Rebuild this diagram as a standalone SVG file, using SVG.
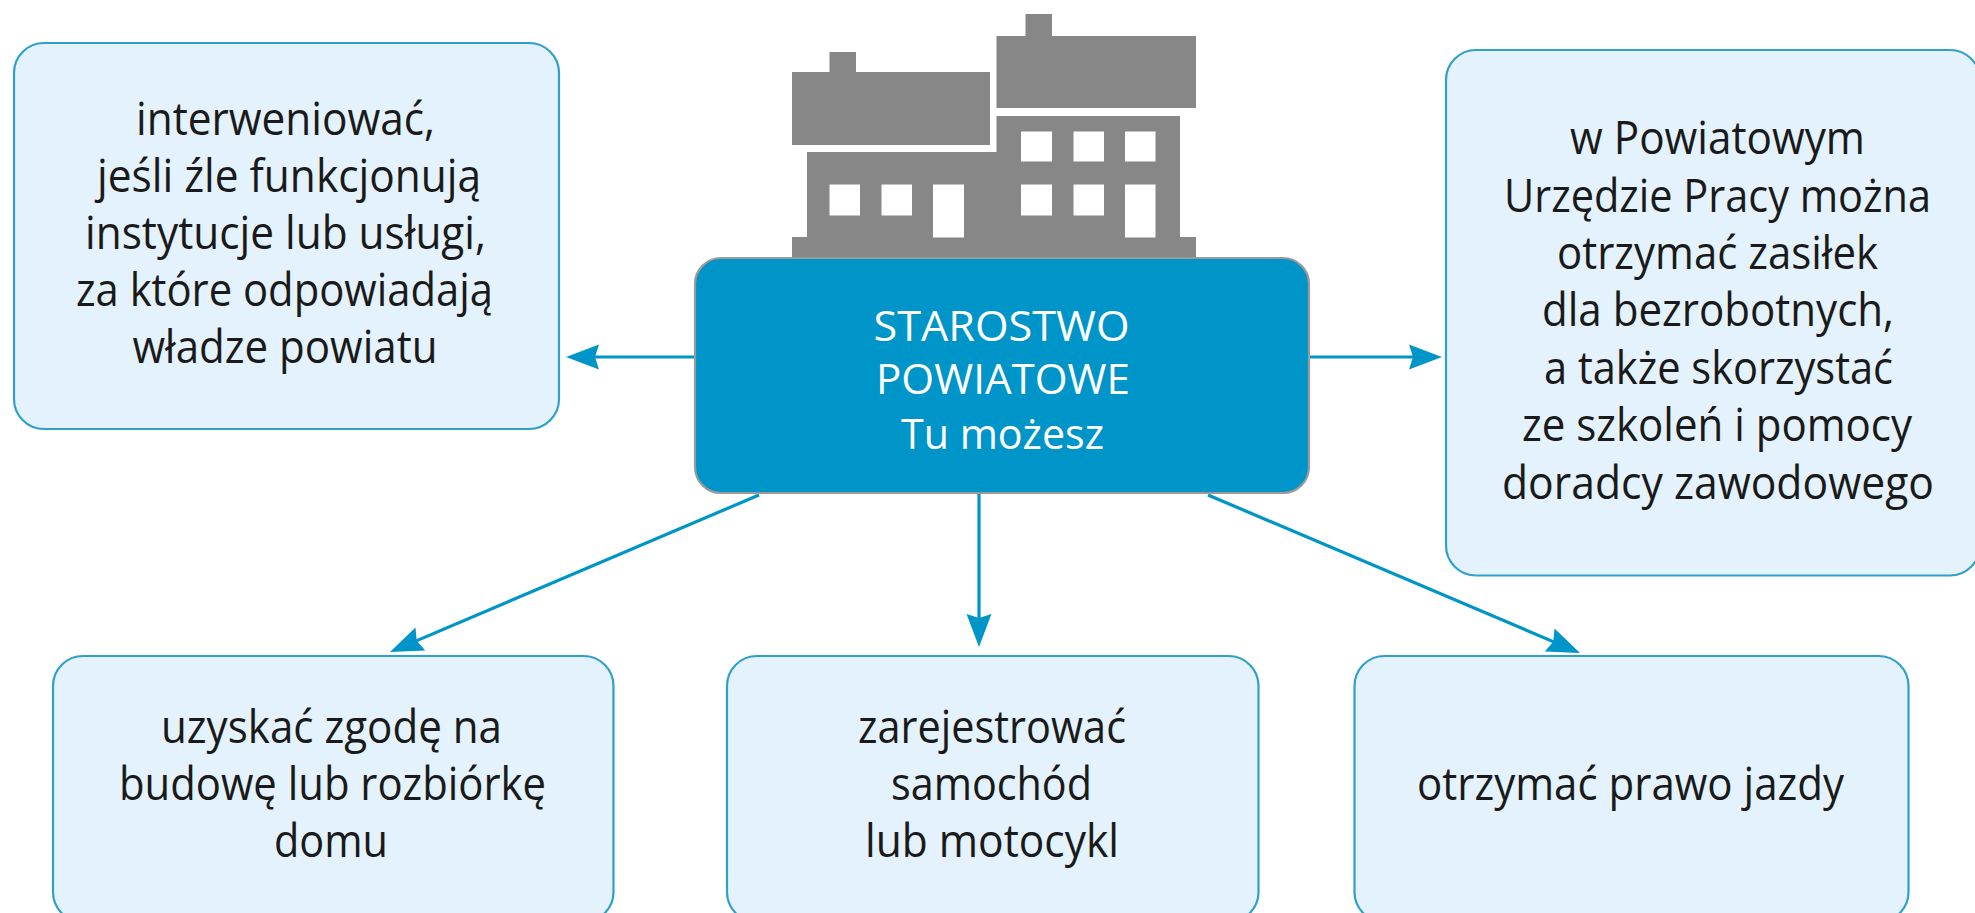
<svg xmlns="http://www.w3.org/2000/svg" width="1975" height="913" viewBox="0 0 1975 913">
<defs>
<style>
.box{fill:#E3F2FC;stroke:#2FA0CC;stroke-width:2.2}
.hub{fill:#0095C8;stroke:#9A9A9A;stroke-width:2.2}
.win{fill:#FFFFFF}
.bld{fill:#878787}
.con{stroke:#0095C8;stroke-width:3.2;fill:none;marker-end:url(#head)}
text{font-family:"Open Sans","Noto Sans","Liberation Sans",sans-serif;text-anchor:middle}
.dk{fill:#1A1A1A;font-size:45.5px}
.wh{fill:#FFFFFF;font-size:42.5px}
</style>
<marker id="head" markerUnits="userSpaceOnUse" markerWidth="36" markerHeight="28" viewBox="0 0 36 28" refX="24" refY="14" orient="auto">
<path d="M1,1.5 L34,14 L1,26.5 L5,14 Z" fill="#0095C8"/>
</marker>
</defs>
<rect width="1975" height="913" fill="#FFFFFF"/>
<g id="connectors">
<line class="con" x1="695" y1="357" x2="576" y2="357"/>
<line class="con" x1="1309" y1="357" x2="1432" y2="357"/>
<line class="con" x1="759" y1="495" x2="399.2" y2="648.1"/>
<line class="con" x1="979" y1="494" x2="979" y2="637"/>
<line class="con" x1="1208" y1="495" x2="1570.8" y2="649.1"/>
</g>
<g id="building">
<rect class="bld" x="792" y="72" width="198" height="73"/>
<rect class="bld" x="829.5" y="52" width="26.5" height="21"/>
<rect class="bld" x="996.5" y="36" width="199.5" height="72"/>
<rect class="bld" x="1025.5" y="14" width="26.5" height="23"/>
<path class="bld" d="M996.5,116 H1180 V237 H1196 V260 H792 V237 H807 V152 H996.5 Z"/>
<rect class="win" x="1021" y="131.5" width="31" height="30"/>
<rect class="win" x="1073.5" y="131.5" width="30.5" height="30"/>
<rect class="win" x="1125" y="131.5" width="30.5" height="30"/>
<rect class="win" x="1021" y="184.5" width="31" height="31"/>
<rect class="win" x="1073.5" y="184.5" width="30.5" height="31"/>
<rect class="win" x="1125" y="184.5" width="30.5" height="53"/>
<rect class="win" x="829.5" y="184.5" width="30.5" height="31"/>
<rect class="win" x="881.5" y="184.5" width="30.5" height="31"/>
<rect class="win" x="933" y="184.5" width="31" height="53"/>
</g>
<g id="node-hub">
<rect class="hub" x="695" y="258" width="614" height="235" rx="26" ry="26"/>
<text class="wh" x="1001.5" y="340.5" textLength="256" lengthAdjust="spacingAndGlyphs">STAROSTWO</text>
<text class="wh" x="1003" y="394" textLength="254" lengthAdjust="spacingAndGlyphs">POWIATOWE</text>
<text class="wh" x="1002.5" y="449" textLength="203" lengthAdjust="spacingAndGlyphs">Tu możesz</text>
</g>
<g id="node-left">
<rect class="box" x="14" y="43" width="545" height="386" rx="30" ry="30"/>
<text class="dk" x="285.5" y="135" textLength="299" lengthAdjust="spacingAndGlyphs">interweniować,</text>
<text class="dk" x="289" y="192" textLength="384" lengthAdjust="spacingAndGlyphs">jeśli źle funkcjonują</text>
<text class="dk" x="285.5" y="249" textLength="401" lengthAdjust="spacingAndGlyphs">instytucje lub usługi,</text>
<text class="dk" x="284.5" y="306" textLength="417" lengthAdjust="spacingAndGlyphs">za które odpowiadają</text>
<text class="dk" x="285" y="363" textLength="305" lengthAdjust="spacingAndGlyphs">władze powiatu</text>
</g>
<g id="node-right">
<rect class="box" x="1446" y="50" width="534" height="525.5" rx="30" ry="30"/>
<text class="dk" x="1717.5" y="154" textLength="295" lengthAdjust="spacingAndGlyphs">w Powiatowym</text>
<text class="dk" x="1717.5" y="211.5" textLength="427" lengthAdjust="spacingAndGlyphs">Urzędzie Pracy można</text>
<text class="dk" x="1717.5" y="269" textLength="321" lengthAdjust="spacingAndGlyphs">otrzymać zasiłek</text>
<text class="dk" x="1718" y="326" textLength="352" lengthAdjust="spacingAndGlyphs">dla bezrobotnych,</text>
<text class="dk" x="1718.5" y="384" textLength="349" lengthAdjust="spacingAndGlyphs">a także skorzystać</text>
<text class="dk" x="1717" y="441" textLength="390" lengthAdjust="spacingAndGlyphs">ze szkoleń i pomocy</text>
<text class="dk" x="1718" y="498.5" textLength="432" lengthAdjust="spacingAndGlyphs">doradcy zawodowego</text>
</g>
<g id="node-bottom-left">
<rect class="box" x="53" y="656" width="560.5" height="266" rx="30" ry="30"/>
<text class="dk" x="331.5" y="743" textLength="341" lengthAdjust="spacingAndGlyphs">uzyskać zgodę na</text>
<text class="dk" x="332.5" y="800" textLength="427" lengthAdjust="spacingAndGlyphs">budowę lub rozbiórkę</text>
<text class="dk" x="331" y="857" textLength="114" lengthAdjust="spacingAndGlyphs">domu</text>
</g>
<g id="node-bottom-middle">
<rect class="box" x="727" y="656" width="531.5" height="266" rx="30" ry="30"/>
<text class="dk" x="992" y="743" textLength="268" lengthAdjust="spacingAndGlyphs">zarejestrować</text>
<text class="dk" x="991.5" y="800" textLength="201" lengthAdjust="spacingAndGlyphs">samochód</text>
<text class="dk" x="992" y="857" textLength="254" lengthAdjust="spacingAndGlyphs">lub motocykl</text>
</g>
<g id="node-bottom-right">
<rect class="box" x="1354.5" y="656" width="554" height="266" rx="30" ry="30"/>
<text class="dk" x="1630.5" y="800" textLength="427" lengthAdjust="spacingAndGlyphs">otrzymać prawo jazdy</text>
</g>
</svg>
